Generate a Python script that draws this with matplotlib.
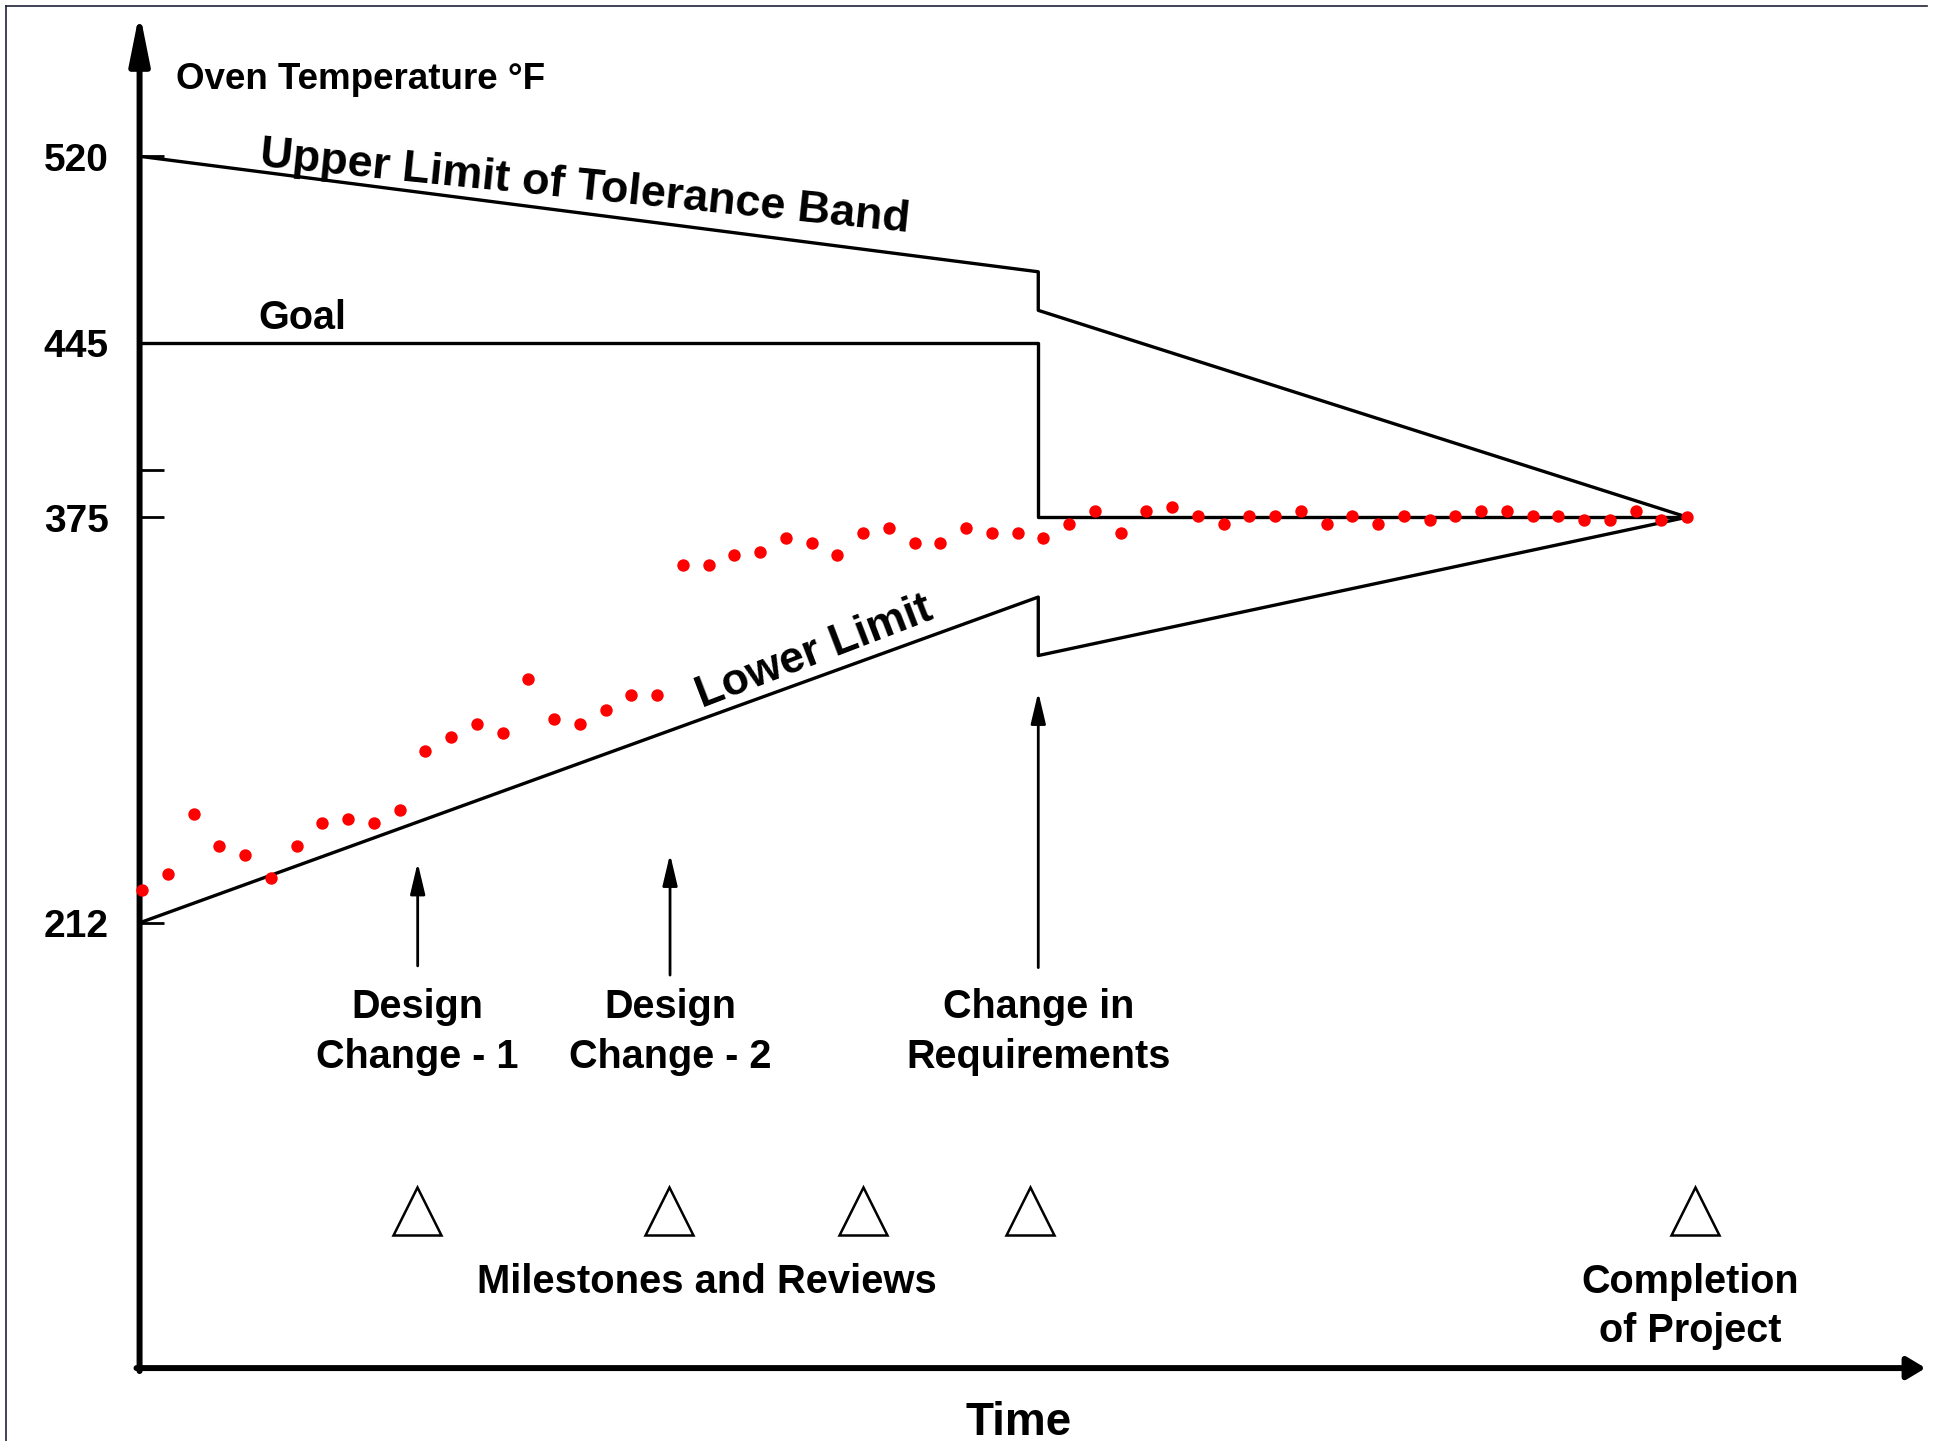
##import statements
import numpy as np
import matplotlib
matplotlib.use("Agg")
import matplotlib.pyplot as plt
from matplotlib.lines import Line2D

plt.rcParams['font.family'] = ['Liberation Sans', 'DejaVu Sans']
plt.rcParams['font.weight'] = 'bold'

####Data
##measured oven temperature (deg F), one reading per time step
temps = [225.3, 231.8, 255.6, 242.7, 239.1, 229.9, 242.7, 252.0, 253.7, 252.1,
         257.4, 281.1, 286.5, 292.0, 288.3, 309.9, 293.9, 292.0, 297.6, 303.6,
         303.6,
         355.9, 355.9, 359.6, 361.2, 366.8, 364.8, 359.6, 368.6, 370.6, 364.8,
         364.8, 370.6, 368.6, 368.5, 366.5, 372.1, 377.5, 368.5, 377.5, 379.2,
         375.6, 372.1, 375.5, 375.5, 377.4, 372.1, 375.5, 372.1, 375.5, 373.7,
         375.5, 377.4, 377.4, 375.5, 375.5, 373.7, 373.7, 377.4, 373.7, 375.0]
steps = np.arange(len(temps))

##tolerance band and goal (time step, deg F)
band_t = [-0.1, 34.8, 34.8, 60.0]
upper_limit = [520, 473.6, 458.1, 375]
goal = [445, 445, 375, 375]
lower_limit = [212, 342.9, 319.4, 375]

##y axis ticks
tick_vals = [520, 445, 394, 375, 212]
tick_labels = ['520', '445', '', '375', '212']

##events pointed at by arrows: (time, arrow tail, arrow tip)
event_t = [10.7, 20.5, 34.8]
event_tail = [194.7, 191.0, 194.0]
event_tip = [236.2, 239.6, 304.7]
event_labels = ['Design\nChange - 1', 'Design\nChange - 2', 'Change in\nRequirements']

##milestones and reviews
milestone_t = [10.66, 20.45, 27.98, 34.46, 60.29]

####Figure
fig = plt.figure(figsize=(19.38, 14.41), dpi=100)
ax = fig.add_axes([0, 0, 1, 1])
ax.set_xlim(-5.52, 69.74)
ax.set_ylim(3.8, 582.8)
ax.axis('off')

##thin frame on top and left edge of the picture
fig.add_artist(Line2D([0.0031, 0.9943], [0.9958, 0.9958], transform=fig.transFigure,
                      color='#22223a', lw=1.2))
fig.add_artist(Line2D([0.0031, 0.0031], [0.0, 0.9958], transform=fig.transFigure,
                      color='#22223a', lw=1.2))

##axes drawn as arrows
x0, y0 = -0.1, 33.1
ax.annotate('', xy=(x0, 578), xytext=(x0, y0 - 1.2),
            arrowprops=dict(arrowstyle='-|>,head_length=1.5,head_width=0.3',
                            lw=4.3, color='black', shrinkA=0, shrinkB=0,
                            mutation_scale=20))
ax.annotate('', xy=(69.26, y0), xytext=(x0 - 0.12, y0),
            arrowprops=dict(arrowstyle='-|>,head_length=0.55,head_width=0.33',
                            lw=4.3, color='black', shrinkA=0, shrinkB=0,
                            mutation_scale=20))

##ticks and tick labels
ax.hlines(tick_vals, x0, 0.86, color='black', lw=2.0)
for v, lab in zip(tick_vals, tick_labels):
    ax.text(-1.3, v - 5.8, lab, ha='right', va='baseline', fontsize=28,
            fontweight='bold')

ax.text(1.3, 547, 'Oven Temperature \u00b0F', ha='left', va='baseline',
        fontsize=26.5, fontweight='bold')

##tolerance band and goal lines
ax.plot(band_t, upper_limit, color='black', lw=2.4)
ax.plot(band_t, goal, color='black', lw=2.4)
ax.plot(band_t, lower_limit, color='black', lw=2.4)

ax.text(17.14, 502.8, 'Upper Limit of Tolerance Band', rotation=-5.8,
        rotation_mode='anchor', ha='center', va='baseline', fontsize=32.5,
        fontweight='bold')
ax.text(4.5, 450.7, 'Goal', ha='left', va='baseline', fontsize=28.5,
        fontweight='bold')
ax.text(26.26, 316.1, 'Lower Limit', rotation=21.0, rotation_mode='anchor',
        ha='center', va='baseline', fontsize=32, fontweight='bold')

##measured temperatures
ax.scatter(steps, temps, s=80, color='#ff0000', zorder=5, linewidths=0)

##event arrows and labels
for t, tail, tip, lab in zip(event_t, event_tail, event_tip, event_labels):
    ax.annotate('', xy=(t, tip), xytext=(t, tail),
                arrowprops=dict(arrowstyle='-|>,head_length=1.9,head_width=0.45',
                                lw=2.0, color='black', shrinkA=0, shrinkB=0,
                                mutation_scale=10))
    ax.text(t, 168.1, lab, ha='center', va='center', fontsize=28.5,
            fontweight='bold', linespacing=1.38)

##milestone triangles
ax.plot(milestone_t, [96.1] * len(milestone_t), linestyle='none', marker='^',
        ms=35, mfc='white', mec='black', mew=1.8)
ax.text(21.94, 63.4, 'Milestones and Reviews', ha='center', va='baseline',
        fontsize=28.8, fontweight='bold')
ax.text(60.1, 57.8, 'Completion\nof Project', ha='center', va='center',
        fontsize=28.5, fontweight='bold', linespacing=1.38)

ax.text(34.03, 6.3, 'Time', ha='center', va='baseline', fontsize=33,
        fontweight='bold')

plt.savefig('out.png', dpi=100)
